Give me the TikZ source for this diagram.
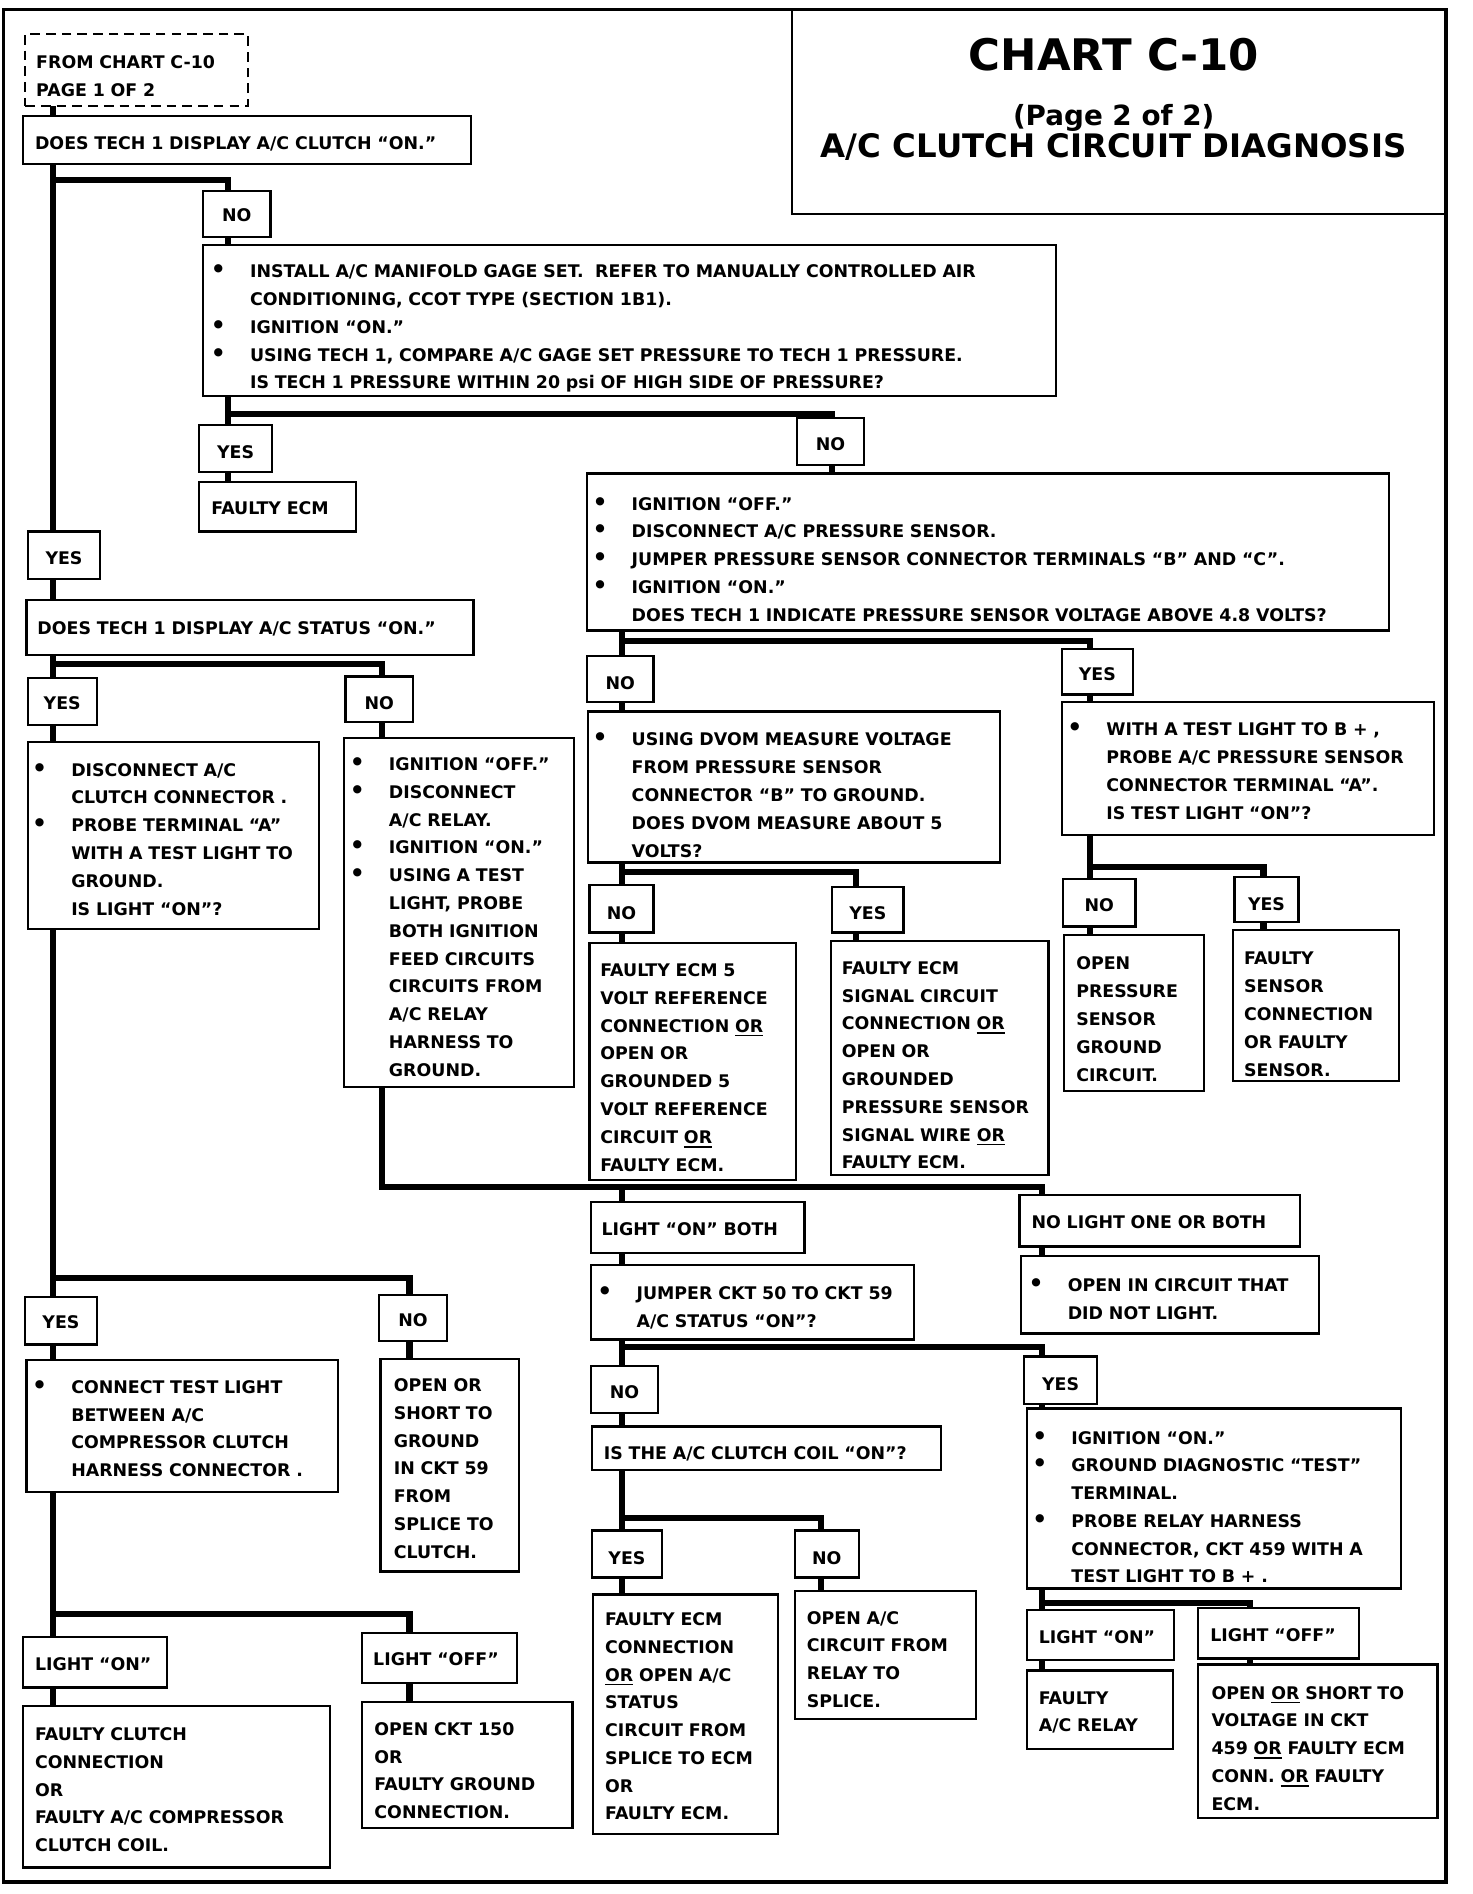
\documentclass[tikz,border=0pt]{standalone}
\usepackage{fontspec}
\setmainfont{DejaVu Sans}
\usepackage{graphicx}

\newcommand{\chartfont}{\fontsize{14.4}{23}\selectfont\bfseries}
\newcommand{\lsk}[2]{\leftskip=#1pt\rightskip=-40pt plus 1fil\relax#2\par}
\newcommand{\bul}{\leavevmode\llap{\scalebox{1.35}{\textbullet}\hspace{20pt}}}
\newsavebox{\undrbox}
\newcommand{\undr}[1]{\leavevmode\sbox{\undrbox}{#1}\rlap{\rule[-3.5pt]{\wd\undrbox}{1.4pt}}\usebox{\undrbox}}

\begin{document}
\begin{tikzpicture}[x=1pt,y=-1pt,
  cbox/.style={draw,line width=1.8pt,anchor=north west,inner sep=0pt,outer sep=0pt,align=left,font=\chartfont},
  ans/.style={cbox,align=center},
  bx/.style n args={3}{text width=#1pt,text height=#2pt,text depth=#3pt},
  wire/.style={line width=5pt}]
  \useasboundingbox (0,0) rectangle (1219,1568);
  \draw[line width=3pt] (3,8) rectangle (1197,1558);
  \draw[line width=1.8pt] (656,8) |- (1197,177);
  \node[anchor=base,font=\fontsize{36}{40}\selectfont\bfseries] (ttl) at (922,58) {CHART C-10};
  \node[anchor=base,font=\fontsize{23}{26}\selectfont\bfseries] (pg) at (922,103.5) {(Page 2 of 2)};
  \node[anchor=base,font=\fontsize{26.8}{30}\selectfont\bfseries] (sub) at (922,130) {A/C CLUTCH CIRCUIT DIAGNOSIS};

  \node[cbox,dash pattern=on 8pt off 5pt,bx={184}{28.6}{31.4}] (src) at (21,28) {\lsk{9}{FROM CHART C-10\\PAGE 1 OF 2}};
  \node[cbox,bx={371}{28}{12}] (q1) at (19,96) {\lsk{10}{DOES TECH 1 DISPLAY A/C CLUTCH “ON.”}};
  \node[ans,bx={56}{25.6}{12.4}] (no1) at (168,158) {NO};
  \node[cbox,bx={706}{27}{98}] (act1) at (168,203) {\lsk{39}{\bul INSTALL A/C MANIFOLD GAGE SET.~ REFER TO MANUALLY CONTROLLED AIR\\CONDITIONING, CCOT TYPE (SECTION 1B1).\\\bul IGNITION “ON.”\\\bul USING TECH 1, COMPARE A/C GAGE SET PRESSURE TO TECH 1 PRESSURE.\\IS TECH 1 PRESSURE WITHIN 20 psi OF HIGH SIDE OF PRESSURE?}};
  \node[ans,bx={60}{27.5}{11.5}] (yes1) at (165,352) {YES};
  \node[cbox,bx={130}{27.2}{13.8}] (ecm1) at (165,399) {\lsk{10}{FAULTY ECM}};
  \node[ans,bx={55}{26.6}{12.4}] (no2) at (660,346) {NO};
  \node[cbox,bx={664}{30.3}{99.7}] (ps) at (486,392) {\lsk{37}{\bul IGNITION “OFF.”\\\bul DISCONNECT A/C PRESSURE SENSOR.\\\bul JUMPER PRESSURE SENSOR CONNECTOR TERMINALS “B” AND “C”.\\\bul IGNITION “ON.”\\DOES TECH 1 INDICATE PRESSURE SENSOR VOLTAGE ABOVE 4.8 VOLTS?}};
  \node[ans,bx={60}{27}{12}] (yes2) at (23,440) {YES};
  \node[cbox,bx={370}{28}{17}] (q2) at (22,497) {\lsk{9}{DOES TECH 1 DISPLAY A/C STATUS “ON.”}};
  \node[ans,bx={57}{26.7}{12.3}] (yes3) at (23,561) {YES};
  \node[ans,bx={56}{27}{11}] (no3) at (286,560) {NO};
  \node[cbox,bx={241}{28.6}{126.4}] (act2) at (23,614) {\lsk{36}{\bul DISCONNECT A/C\\CLUTCH CONNECTOR .\\\bul PROBE TERMINAL “A”\\WITH A TEST LIGHT TO\\GROUND.\\IS LIGHT “ON”?}};
  \node[cbox,bx={190}{27}{262}] (act3) at (285,611) {\lsk{37}{\bul IGNITION “OFF.”\\\bul DISCONNECT\\A/C RELAY.\\\bul IGNITION “ON.”\\\bul USING A TEST\\LIGHT, PROBE\\BOTH IGNITION\\FEED CIRCUITS\\CIRCUITS FROM\\A/C RELAY\\HARNESS TO\\GROUND.}};
  \node[ans,bx={55}{27.5}{10.5}] (noA) at (486,543) {NO};
  \node[ans,bx={59}{26.7}{11.3}] (yesA) at (879,537) {YES};
  \node[cbox,bx={341}{28.5}{96.5}] (act4) at (487,589) {\lsk{36}{\bul USING DVOM MEASURE VOLTAGE\\FROM PRESSURE SENSOR\\CONNECTOR “B” TO GROUND.\\DOES DVOM MEASURE ABOUT 5\\VOLTS?}};
  \node[cbox,bx={308}{28.2}{81.8}] (act5) at (879,581) {\lsk{37}{\bul WITH A TEST LIGHT TO B + ,\\PROBE A/C PRESSURE SENSOR\\CONNECTOR TERMINAL “A”.\\IS TEST LIGHT “ON”?}};
  \node[ans,bx={53}{28}{11}] (noB) at (488,733) {NO};
  \node[ans,bx={59}{27}{11}] (yesB) at (689,734) {YES};
  \node[ans,bx={60}{27}{12}] (noC) at (880,728) {NO};
  \node[ans,bx={53}{28}{9}] (yesC) at (1022,726) {YES};
  \node[cbox,bx={171}{27.5}{168.5}] (ref5) at (488,781) {\lsk{9}{FAULTY ECM 5\\VOLT REFERENCE\\CONNECTION \undr{OR}\\OPEN OR\\GROUNDED 5\\VOLT REFERENCE\\CIRCUIT \undr{OR}\\FAULTY ECM.}};
  \node[cbox,bx={180}{27.6}{166.4}] (sig) at (688,779) {\lsk{9}{FAULTY ECM\\SIGNAL CIRCUIT\\CONNECTION \undr{OR}\\OPEN OR\\GROUNDED\\PRESSURE SENSOR\\SIGNAL WIRE \undr{OR}\\FAULTY ECM.}};
  \node[cbox,bx={116}{29}{100}] (gnd) at (881,774) {\lsk{10}{OPEN\\PRESSURE\\SENSOR\\GROUND\\CIRCUIT.}};
  \node[cbox,bx={137}{28.8}{96.2}] (sens) at (1021,770) {\lsk{9}{FAULTY\\SENSOR\\CONNECTION\\OR FAULTY\\SENSOR.}};
  \node[cbox,bx={177}{28}{14}] (both) at (489,995) {\lsk{9}{LIGHT “ON” BOTH}};
  \node[cbox,bx={268}{29.2}{32.8}] (jmp) at (489,1047) {\lsk{38}{\bul JUMPER CKT 50 TO CKT 59\\A/C STATUS “ON”?}};
  \node[cbox,bx={232}{28}{15}] (nolt) at (844,989) {\lsk{10}{NO LIGHT ONE OR BOTH}};
  \node[cbox,bx={247}{29}{35}] (opn) at (845,1040) {\lsk{39}{\bul OPEN IN CIRCUIT THAT\\DID NOT LIGHT.}};
  \node[ans,bx={56}{27}{12}] (noD) at (489,1131) {NO};
  \node[ans,bx={60}{27.8}{11.2}] (yesD) at (848,1123) {YES};
  \node[cbox,bx={289}{27}{9}] (coil) at (490,1181) {\lsk{10}{IS THE A/C CLUTCH COIL “ON”?}};
  \node[cbox,bx={310}{29.5}{119.5}] (act7) at (850,1166) {\lsk{37}{\bul IGNITION “ON.”\\\bul GROUND DIAGNOSTIC “TEST”\\TERMINAL.\\\bul PROBE RELAY HARNESS\\CONNECTOR, CKT 459 WITH A\\TEST LIGHT TO B + .}};
  \node[ans,bx={58}{28}{11}] (yesE) at (490,1267) {YES};
  \node[ans,bx={53}{28}{11}] (noE) at (658,1267) {NO};
  \node[cbox,bx={153}{25.7}{172.3}] (ecmc) at (491,1320) {\lsk{10}{FAULTY ECM\\CONNECTION\\\undr{OR} OPEN A/C\\STATUS\\CIRCUIT FROM\\SPLICE TO ECM\\OR\\FAULTY ECM.}};
  \node[cbox,bx={150}{27.5}{78.5}] (relay) at (658,1317) {\lsk{10}{OPEN A/C\\CIRCUIT FROM\\RELAY TO\\SPLICE.}};
  \node[cbox,bx={122}{28}{13}] (lonF) at (850,1333) {\lsk{10}{LIGHT “ON”}};
  \node[cbox,bx={133}{28}{14}] (loffF) at (992,1331) {\lsk{10}{LIGHT “OFF”}};
  \node[cbox,bx={121}{27.8}{37.2}] (frly) at (850,1383) {\lsk{10}{FAULTY\\A/C RELAY}};
  \node[cbox,bx={198}{28.6}{98.4}] (v459) at (992,1378) {\lsk{11}{OPEN \undr{OR} SHORT TO\\VOLTAGE IN CKT\\459 \undr{OR} FAULTY ECM\\CONN. \undr{OR} FAULTY\\ECM.}};
  \node[ans,bx={59}{25.7}{13.3}] (yesG) at (21,1074) {YES};
  \node[ans,bx={56}{26.3}{11.7}] (noG) at (314,1072) {NO};
  \node[cbox,bx={258}{27.5}{81.5}] (act8) at (22,1126) {\lsk{37}{\bul CONNECT TEST LIGHT\\BETWEEN A/C\\COMPRESSOR CLUTCH\\HARNESS CONNECTOR .}};
  \node[cbox,bx={115}{27}{149}] (c59) at (315,1125) {\lsk{11}{OPEN OR\\SHORT TO\\GROUND\\IN CKT 59\\FROM\\SPLICE TO\\CLUTCH.}};
  \node[cbox,bx={119}{28}{14}] (lonH) at (19,1355) {\lsk{10}{LIGHT “ON”}};
  \node[cbox,bx={128}{27}{14}] (loffH) at (300,1352) {\lsk{9}{LIGHT “OFF”}};
  \node[cbox,bx={254}{29}{105}] (clc) at (19,1412) {\lsk{10}{FAULTY CLUTCH\\CONNECTION\\OR\\FAULTY A/C COMPRESSOR\\CLUTCH COIL.}};
  \node[cbox,bx={174}{27.7}{76.3}] (c150) at (300,1409) {\lsk{10}{OPEN CKT 150\\OR\\FAULTY GROUND\\CONNECTION.}};

  \coordinate (kT) at (44,0);
  \coordinate (kN) at (189,0);
  \coordinate (kM) at (689,0);
  \coordinate (kU) at (316,0);
  \coordinate (kP) at (515,0);
  \coordinate (kQ) at (709,0);
  \coordinate (kR) at (902,0);
  \coordinate (kS) at (1046,0);
  \coordinate (kV) at (863,0);
  \coordinate (kX) at (680,0);
  \coordinate (kY) at (1035,0);
  \coordinate (kZ) at (339,0);

  \draw[wire] (src.south -| kT) -- (q1.north -| kT);
  \draw[wire] (q1.south -| kT) -- (yes2.north -| kT);
  \draw[wire] ([yshift=-13pt]q1.south -| kT) -| (no1.north -| kN);
  \draw[wire] (no1.south -| kN) -- (act1.north -| kN);
  \draw[wire] (act1.south -| kN) -- (yes1.north -| kN);
  \draw[wire] ([yshift=-15pt]act1.south -| kN) -| (no2.north -| kM);
  \draw[wire] (yes1.south -| kN) -- (ecm1.north -| kN);
  \draw[wire] (no2.south -| kM) -- (ps.north -| kM);
  \draw[wire] (ps.south -| kP) -- (noA.north -| kP);
  \draw[wire] ([yshift=-9pt]ps.south -| kP) -| (yesA.north -| kR);
  \draw[wire] (noA.south -| kP) -- (act4.north -| kP);
  \draw[wire] (yesA.south -| kR) -- (act5.north -| kR);
  \draw[wire] (act4.south -| kP) -- (noB.north -| kP);
  \draw[wire] ([yshift=-8pt]act4.south -| kP) -| (yesB.north -| kQ);
  \draw[wire] (noB.south -| kP) -- (ref5.north -| kP);
  \draw[wire] (yesB.south -| kQ) -- (sig.north -| kQ);
  \draw[wire] (act5.south -| kR) -- (noC.north -| kR);
  \draw[wire] ([yshift=-27pt]act5.south -| kR) -| (yesC.north -| kS);
  \draw[wire] (noC.south -| kR) -- (gnd.north -| kR);
  \draw[wire] (yesC.south -| kS) -- (sens.north -| kS);
  \draw[wire] (yes2.south -| kT) -- (q2.north -| kT);
  \draw[wire] (q2.south -| kT) -- (yes3.north -| kT);
  \draw[wire] ([yshift=-8pt]q2.south -| kT) -| (no3.north -| kU);
  \draw[wire] (yes3.south -| kT) -- (act2.north -| kT);
  \draw[wire] (no3.south -| kU) -- (act3.north -| kU);
  \draw[wire] (act3.south -| kU) |- ([yshift=6pt]nolt.north -| kV) -- (nolt.north -| kV);
  \draw[wire] ([yshift=12pt]both.north -| kP) -- (both.north -| kP);
  \draw[wire] (both.south -| kP) -- (jmp.north -| kP);
  \draw[wire] (nolt.south -| kV) -- (opn.north -| kV);
  \draw[wire] (jmp.south -| kP) -- (noD.north -| kP);
  \draw[wire] ([yshift=-6pt]jmp.south -| kP) -| (yesD.north -| kV);
  \draw[wire] (noD.south -| kP) -- (coil.north -| kP);
  \draw[wire] (yesD.south -| kV) -- (act7.north -| kV);
  \draw[wire] (coil.south -| kP) -- (yesE.north -| kP);
  \draw[wire] ([yshift=-40pt]coil.south -| kP) -| (noE.north -| kX);
  \draw[wire] (yesE.south -| kP) -- (ecmc.north -| kP);
  \draw[wire] (noE.south -| kX) -- (relay.north -| kX);
  \draw[wire] (act7.south -| kV) -- (lonF.north -| kV);
  \draw[wire] ([yshift=-12pt]act7.south -| kV) -| (loffF.north -| kY);
  \draw[wire] (lonF.south -| kV) -- (frly.north -| kV);
  \draw[wire] (loffF.south -| kY) -- (v459.north -| kY);
  \draw[wire] (act2.south -| kT) -- (yesG.north -| kT);
  \draw[wire] ([yshift=16pt]yesG.north -| kT) -| (noG.north -| kZ);
  \draw[wire] (yesG.south -| kT) -- (act8.north -| kT);
  \draw[wire] (noG.south -| kZ) -- (c59.north -| kZ);
  \draw[wire] (act8.south -| kT) -- (lonH.north -| kT);
  \draw[wire] ([yshift=19pt]lonH.north -| kT) -| (loffH.north -| kZ);
  \draw[wire] (lonH.south -| kT) -- (clc.north -| kT);
  \draw[wire] (loffH.south -| kZ) -- (c150.north -| kZ);
\end{tikzpicture}
\end{document}
